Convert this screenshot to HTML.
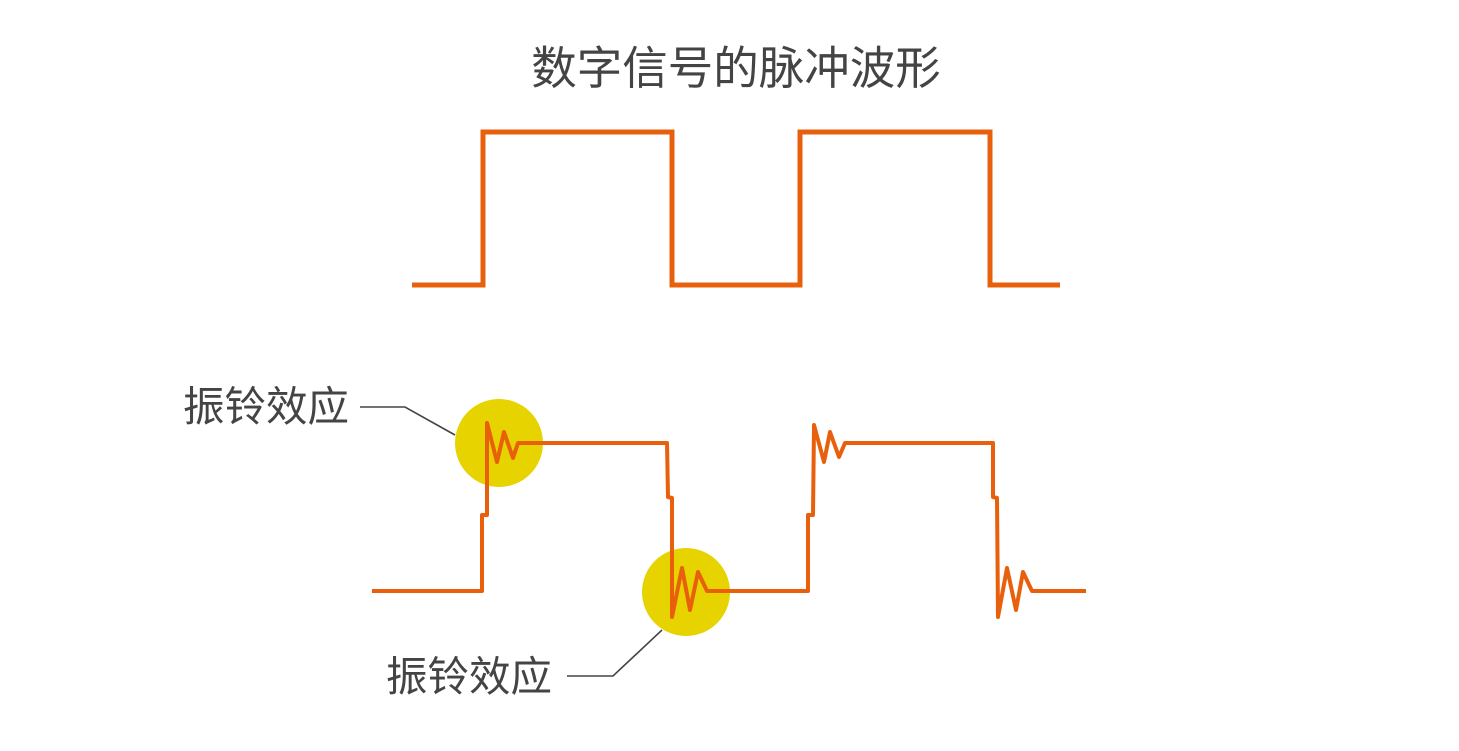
<!DOCTYPE html>
<html><head><meta charset="utf-8"><style>
html,body{margin:0;padding:0;background:#fff;}
svg{display:block;}
text{font-family:"Liberation Sans","Noto Sans CJK SC",sans-serif;fill:#444;}
</style></head><body>
<svg width="1459" height="751" viewBox="0 0 1459 751" xmlns="http://www.w3.org/2000/svg">
<text x="736" y="84" font-size="45.5" text-anchor="middle">数字信号的脉冲波形</text>
<polyline fill="none" stroke="#e8600c" stroke-width="5" points="412,285 483,285 483,132 672,132 672,285 800,285 800,132 990,132 990,285 1060,285"/>
<circle cx="499" cy="443" r="44" fill="#e6d300"/>
<circle cx="686" cy="592" r="44" fill="#e6d300"/>
<polyline fill="none" stroke="#444" stroke-width="1.6" points="360,407 405,407 455,435"/>
<polyline fill="none" stroke="#444" stroke-width="1.6" points="567,676 613,676 662,630"/>
<polyline fill="none" stroke="#e8600c" stroke-width="4" stroke-linejoin="round" points="372,591 482,591 482,515 487,515 487,423 497,462 504,432 513,458 518,443 667,443 668,497 672,498 672,617 682,568 690,610 698,572 707,591 808,591 808,515 813,515 814,425 824,462 830,432 839,457 845,443 993,443 993,497 997,498 998,617 1007,568 1016,610 1023,572 1032,591 1086,591"/>
<text x="183" y="421" font-size="41.5">振铃效应</text>
<text x="386" y="691" font-size="41.5">振铃效应</text>
</svg>
</body></html>
